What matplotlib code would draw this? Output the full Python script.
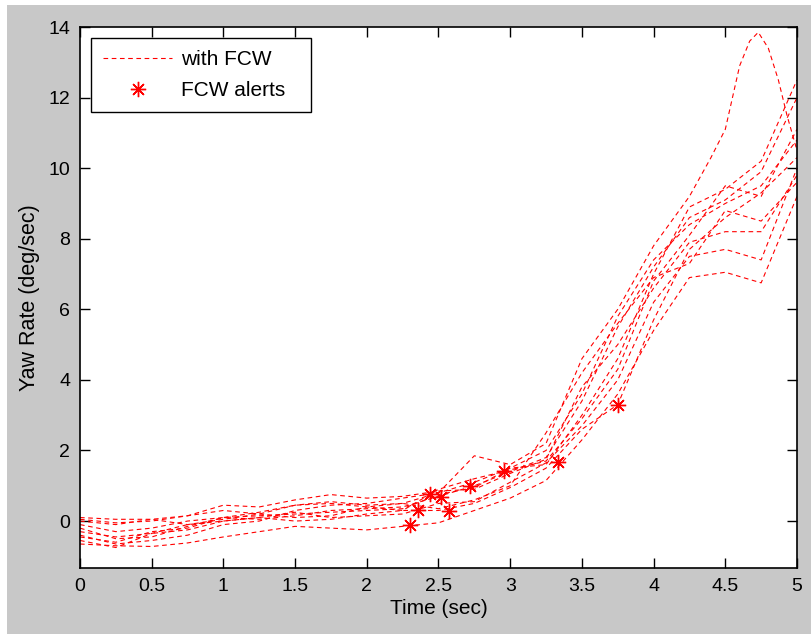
import matplotlib
matplotlib.use("Agg")
import matplotlib.pyplot as plt
from matplotlib.patches import Rectangle

# time grid shared by most trials (sec)
t = [0, 0.25, 0.5, 0.75, 1, 1.25, 1.5, 1.75, 2, 2.25, 2.5, 2.75, 3, 3.25, 3.5,
     3.75, 4, 4.25, 4.5, 4.75, 5]

# trial with the big overshoot, sampled a bit denser near the peak
t_peak = [0, 0.25, 0.5, 0.75, 1, 1.25, 1.5, 1.75, 2, 2.25, 2.5, 2.75, 3, 3.25,
          3.5, 3.75, 4, 4.25, 4.4, 4.5, 4.6, 4.67, 4.73, 4.8, 4.87, 4.93, 5]
y_peak = [0.05, -0.05, 0.0, 0.15, 0.3, 0.2, 0.45, 0.55, 0.45, 0.5, 0.8, 1.85,
          1.6, 2.2, 4.6, 6.0, 7.8, 9.2, 10.3, 11.1, 12.9, 13.6, 13.85, 13.4,
          12.5, 11.5, 10.5]

# yaw rate (deg/sec) of the other trials on the shared grid
trials = [
    [-0.1, -0.3, -0.2, 0.0, 0.1, 0.15, 0.2, 0.25, 0.3, 0.35, 0.75, 0.95, 1.5,
     1.6, 3.0, 4.6, 7.0, 8.9, 9.4, 10.2, 12.5],
    [-0.45, -0.6, -0.3, -0.2, 0.1, 0.05, 0.15, 0.3, 0.35, 0.4, 0.7, 1.0, 1.4,
     1.8, 3.4, 5.5, 7.2, 8.6, 9.1, 9.9, 12.0],
    [0.0, -0.1, 0.05, -0.1, 0.05, 0.2, 0.1, 0.15, 0.4, 0.3, 0.9, 1.2, 1.45,
     1.7, 2.9, 4.3, 6.8, 8.1, 9.5, 9.2, 11.1],
    [-0.55, -0.75, -0.35, -0.1, 0.0, 0.1, 0.0, 0.05, 0.2, 0.3, 0.3, 0.5, 0.95,
     1.5, 2.6, 3.3, 5.7, 7.7, 8.6, 9.3, 10.3],
    [-0.65, -0.7, -0.72, -0.62, -0.45, -0.3, -0.15, -0.2, -0.25, -0.15, -0.05,
     0.3, 0.65, 1.15, 2.3, 3.6, 5.4, 6.9, 7.05, 6.75, 9.2],
    [-0.3, -0.45, -0.35, -0.25, 0.0, 0.1, 0.25, 0.1, 0.15, 0.2, 0.5, 0.55, 1.1,
     1.65, 2.7, 4.0, 6.2, 7.5, 7.7, 7.4, 10.0],
    [0.1, 0.05, 0.05, 0.15, 0.45, 0.4, 0.6, 0.75, 0.65, 0.7, 0.85, 0.9, 1.35,
     1.75, 3.8, 5.0, 6.6, 7.9, 8.2, 8.2, 9.8],
    [-0.4, -0.65, -0.55, -0.4, -0.1, 0.0, 0.3, 0.45, 0.5, 0.65, 0.8, 1.1, 1.5,
     2.0, 3.6, 5.8, 7.4, 8.4, 9.0, 9.5, 10.8],
    [-0.2, -0.5, -0.45, -0.15, 0.1, 0.25, 0.45, 0.5, 0.4, 0.5, 0.35, 0.6, 1.0,
     2.5, 4.2, 5.6, 6.9, 7.3, 8.8, 8.5, 9.6],
]

# FCW alert instants
alert_t = [2.30, 2.36, 2.44, 2.52, 2.57, 2.72, 2.96, 3.33, 3.75]
alert_y = [-0.11, 0.31, 0.76, 0.69, 0.28, 0.99, 1.42, 1.68, 3.29]

plt.rcParams["font.family"] = ["Liberation Sans", "DejaVu Sans"]
GRAY = "#c8c8c8"
DASH = (0, (4.2, 3.2))

fig = plt.figure(figsize=(8.12, 6.34), dpi=100, facecolor="white")
fig.patches.append(Rectangle((7 / 812, 0), 1, 1 - 5 / 634, transform=fig.transFigure,
                             facecolor=GRAY, edgecolor="none", zorder=-10))
ax = fig.add_axes([80 / 812, 66 / 634, 717 / 812, 541 / 634])

ax.plot(t_peak, y_peak, color="red", lw=0.8, linestyle=DASH, label="with FCW")
for y in trials:
    ax.plot(t, y, color="red", lw=0.8, linestyle=DASH)
ax.plot(alert_t, alert_y, linestyle="none", marker=(8, 2, 0), markersize=11,
        markeredgewidth=1.0, color="red", label="FCW alerts")

ax.set_xlim(0, 5)
ax.set_ylim(-1.33, 14)
ax.set_xticks([0, 0.5, 1, 1.5, 2, 2.5, 3, 3.5, 4, 4.5, 5])
ax.set_xticklabels(["0", "0.5", "1", "1.5", "2", "2.5", "3", "3.5", "4", "4.5", "5"])
ax.set_yticks([0, 2, 4, 6, 8, 10, 12, 14])
ax.tick_params(direction="in", length=7, width=1, top=True, right=True,
               labelsize=14, pad=7)
for s in ax.spines.values():
    s.set_linewidth(1.2)
ax.set_xlabel("Time (sec)", fontsize=15, labelpad=3)
ax.set_ylabel("Yaw Rate (deg/sec)", fontsize=15.5, labelpad=6)

# legend box spans ~220 px, like the MATLAB original
leg = ax.legend(loc="upper left",
                bbox_to_anchor=(11 / 717, 0, 220 / 717, 1 - 11 / 541),
                mode="expand", borderaxespad=0, fontsize=15, frameon=True,
                fancybox=False, framealpha=1, edgecolor="black",
                handlelength=3.3, borderpad=0.6, labelspacing=0.55,
                handletextpad=0.4)
leg.get_frame().set_linewidth(1.0)

fig.savefig("out.png", dpi=100, facecolor=fig.get_facecolor())
